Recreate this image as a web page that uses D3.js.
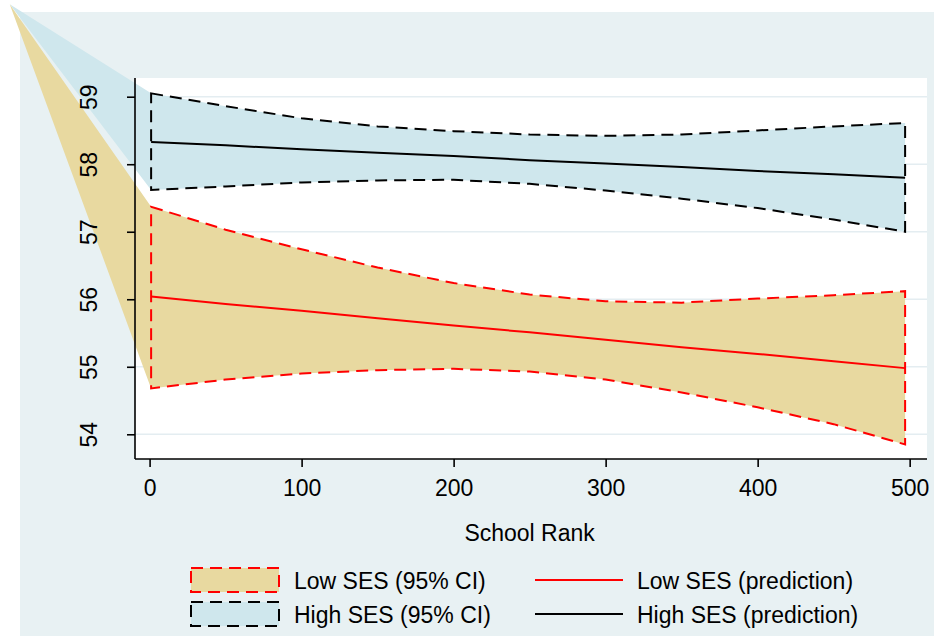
<!DOCTYPE html>
<html>
<head>
<meta charset="utf-8">
<script src="https://cdn.jsdelivr.net/npm/d3@7"></script>
<style>
  html, body { margin: 0; padding: 0; background: #ffffff; }
  svg { display: block; }
  text { font-family: "Liberation Sans", Arial, Helvetica, sans-serif; fill: #000; }
</style>
</head>
<body>
<svg id="chart" width="939" height="636"></svg>
<script>
// ---------------- data ----------------
const ranks     = [1, 50, 100, 150, 200, 250, 300, 350, 400, 450, 497];
const highUpper = [59.05, 58.86, 58.68, 58.56, 58.49, 58.44, 58.42, 58.44, 58.50, 58.56, 58.61];
const highPred  = [58.33, 58.28, 58.22, 58.17, 58.12, 58.06, 58.01, 57.96, 57.90, 57.85, 57.80];
const highLower = [57.62, 57.67, 57.73, 57.76, 57.77, 57.71, 57.61, 57.49, 57.35, 57.18, 57.00];
const lowUpper  = [57.37, 57.03, 56.74, 56.47, 56.24, 56.07, 55.97, 55.95, 56.01, 56.06, 56.12];
const lowPred   = [56.04, 55.93, 55.83, 55.72, 55.61, 55.51, 55.40, 55.29, 55.19, 55.08, 54.98];
const lowLower  = [54.68, 54.81, 54.90, 54.95, 54.97, 54.93, 54.81, 54.62, 54.40, 54.15, 53.85];
// the source's shaded areas are anchored to a stray vertex far up-left (rendering artifact)
const strayVertex = { rank: -92, value: 60.37 };
const xTicks = [0, 100, 200, 300, 400, 500];
const yTicks = [54, 55, 56, 57, 58, 59];
const xTitle = "School Rank";
const legendItems = [
  { label: "Low SES (95% CI)", kind: "area", group: "low" },
  { label: "High SES (95% CI)", kind: "area", group: "high" },
  { label: "Low SES (prediction)", kind: "line", group: "low" },
  { label: "High SES (prediction)", kind: "line", group: "high" }
];

// ---------------- styles ----------------
const colors = {
  low:  { fill: "#e8d9a0", stroke: "#ff0000" },
  high: { fill: "#cfe7ed", stroke: "#000000" },
  bg: "#e8f1f3",
  grid: "#e4edf1"
};
const DASH = "12,7";
const FONT = 23;

// ---------------- layout ----------------
const W = 939, H = 636;
const plot = { left: 135, top: 78, right: 927, bottom: 459 };

const svg = d3.select("#chart");

svg.append("rect").attr("x", 20).attr("y", 12).attr("width", 914).attr("height", H - 12)
  .attr("fill", colors.bg);
svg.append("rect").attr("x", plot.left).attr("y", plot.top)
  .attr("width", plot.right - plot.left).attr("height", plot.bottom - plot.top)
  .attr("fill", "#ffffff");

const x = d3.scaleLinear().domain([-9.6, 511.4]).range([plot.left, plot.right]);
const y = d3.scaleLinear().domain([53.634, 59.277]).range([plot.bottom, plot.top]);

// grid
svg.append("g").selectAll("line").data(yTicks).join("line")
  .attr("x1", plot.left).attr("x2", plot.right)
  .attr("y1", d => y(d)).attr("y2", d => y(d))
  .attr("stroke", colors.grid).attr("stroke-width", 1.6);

const series = {
  high: { upper: highUpper, pred: highPred, lower: highLower },
  low:  { upper: lowUpper,  pred: lowPred,  lower: lowLower }
};

const lineGen = d3.line().x(d => x(d[0])).y(d => y(d[1]));

function bandPoints(s) {
  const up = ranks.map((r, i) => [r, s.upper[i]]);
  const lo = ranks.map((r, i) => [r, s.lower[i]]).reverse();
  return { up, lo };
}

// shaded areas (with stray vertex, unclipped as in source)
["high", "low"].forEach(g => {
  const { up, lo } = bandPoints(series[g]);
  const pts = [[strayVertex.rank, strayVertex.value], ...up, ...lo];
  svg.append("path").attr("d", lineGen(pts) + "Z")
    .attr("fill", colors[g].fill).attr("stroke", "none");
});

// dashed outlines and prediction lines
["high", "low"].forEach(g => {
  const { up, lo } = bandPoints(series[g]);
  svg.append("path").attr("d", lineGen([...up, ...lo]) + "Z")
    .attr("fill", "none").attr("stroke", colors[g].stroke)
    .attr("stroke-width", 2).attr("stroke-dasharray", DASH)
    .attr("stroke-linejoin", "miter");
  svg.append("path").attr("d", lineGen(ranks.map((r, i) => [r, series[g].pred[i]])))
    .attr("fill", "none").attr("stroke", colors[g].stroke).attr("stroke-width", 2);
});

// axes
const xAxis = d3.axisBottom(x).tickValues(xTicks).tickSize(8).tickPadding(10).tickFormat(d3.format("d"));
const gx = svg.append("g").attr("transform", `translate(0,${plot.bottom})`).call(xAxis);
gx.select(".domain").attr("d", `M${plot.left},0H${plot.right}`).attr("stroke-width", 1.6);
gx.selectAll(".tick line").attr("stroke-width", 1.6);
gx.selectAll(".tick text").attr("font-size", FONT).attr("font-family", null)
  .attr("dy", null).attr("y", 37);

const yAxis = d3.axisLeft(y).tickValues(yTicks).tickSize(8).tickFormat(d3.format("d"));
const gy = svg.append("g").attr("transform", `translate(${plot.left},0)`).call(yAxis);
gy.select(".domain").attr("d", `M0,${plot.top}V${plot.bottom}`).attr("stroke-width", 1.6);
gy.selectAll(".tick line").attr("stroke-width", 1.6);
gy.selectAll(".tick text").attr("font-size", FONT).attr("font-family", null)
  .attr("x", null).attr("dy", null)
  .attr("text-anchor", "middle")
  .attr("transform", "translate(-38,0) rotate(-90)");
gx.attr("font-family", null); gy.attr("font-family", null);

// axis title
svg.append("text").attr("x", (x(0) + x(500)) / 2).attr("y", 541)
  .attr("text-anchor", "middle").attr("font-size", FONT).text(xTitle);

// legend
const legCols = [{ sx: 191, tx: 294 }, { sx: 535, tx: 637 }];
const legRows = [580, 614];
legendItems.forEach((it, i) => {
  const col = legCols[Math.floor(i / 2)], cy = legRows[i % 2];
  if (it.kind === "area") {
    svg.append("rect").attr("x", col.sx).attr("y", cy - 12).attr("width", 88).attr("height", 24)
      .attr("fill", colors[it.group].fill).attr("stroke", colors[it.group].stroke)
      .attr("stroke-width", 2).attr("stroke-dasharray", DASH);
  } else {
    svg.append("line").attr("x1", col.sx).attr("x2", col.sx + 88).attr("y1", cy).attr("y2", cy)
      .attr("stroke", colors[it.group].stroke).attr("stroke-width", 2);
  }
  svg.append("text").attr("x", col.tx).attr("y", cy + 8.5).attr("font-size", FONT).text(it.label);
});
</script>
</body>
</html>
